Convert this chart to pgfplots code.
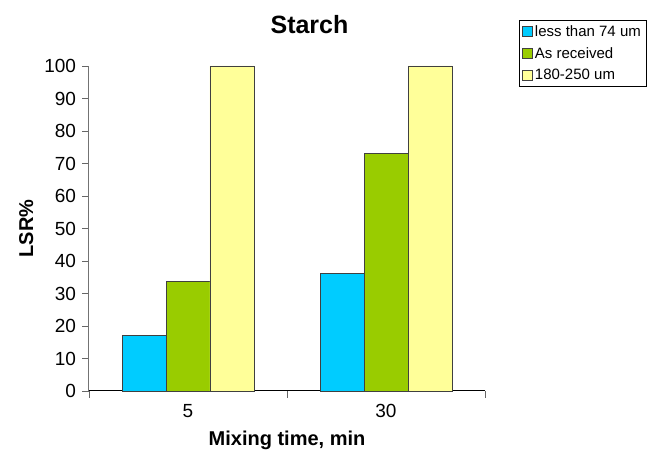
\documentclass[border=0pt]{standalone}
\usepackage{fontspec}
\setmainfont{Liberation Sans}
\usepackage{pgfplots}
\pgfplotsset{compat=1.18}
\definecolor{cblue}{HTML}{00CCFF}
\definecolor{cgreen}{HTML}{99CC00}
\definecolor{cyellow}{HTML}{FFFF99}
\begin{document}
\begin{tikzpicture}[x=1pt,y=1pt]
\path (-89,-57) rectangle (575,391);
\begin{axis}[
  at={(0,0)}, anchor=south west,
  scale only axis, width=396pt, height=325pt,
  ybar, bar width=0.2222,
  xmin=-0.5, xmax=1.5, ymin=0, ymax=100,
  ytick={0,10,...,100},
  xtick={0,1}, xticklabels={5,30},
  minor xtick={-0.5,0.5,1.5},
  major x tick style={draw=none},
  minor tick length=7pt, major tick length=6.5pt,
  tick align=outside,
  axis x line*=bottom, axis y line*=left,
  axis line style={-, line width=1pt},
  x axis line style={black},
  y axis line style={black!55},
  tick style={line width=0.9pt, black!60},
  /pgf/number format/assume math mode=true,
  tick label style={font=\fontsize{19}{21}\selectfont},
  yticklabel style={anchor=east, xshift=-3pt},
  xticklabel style={anchor=north, yshift=-3pt},
  xlabel={\textbf{Mixing time, min}},
  ylabel={\textbf{LSR\%}},
  label style={font=\fontsize{20}{22}\selectfont},
  xlabel style={at={(axis description cs:0.5,-0.1662)}, anchor=base},
  ylabel style={at={(axis description cs:-0.1414,0.5)}, anchor=base},
  legend style={at={(axis description cs:1.0859,1.1415)}, anchor=north west, draw=black, line width=0.7pt,
    font=\fontsize{15}{17}\selectfont, inner xsep=3pt, inner ysep=3pt, row sep=5.5pt,
    legend cell align=left},
  legend image code/.code={\draw[#1, line width=0.6pt] (0pt,-5pt) rectangle (10pt,5pt);},
  every axis plot/.append style={draw=black!75, line width=0.8pt},
  clip=false,
]
\addplot[fill=cblue, bar shift=-0.2222] coordinates {(0,17.0) (1,36.1)};
\addplot[fill=cgreen, bar shift=0] coordinates {(0,33.6) (1,73.0)};
\addplot[fill=cyellow, bar shift=0.2222] coordinates {(0,100) (1,100)};
\legend{less than 74 um, As received, 180-250 um}
\node[font=\fontsize{25}{27}\selectfont\bfseries, anchor=base] at (axis description cs:0.5568,1.1015) {Starch};
\end{axis}
\end{tikzpicture}
\end{document}
